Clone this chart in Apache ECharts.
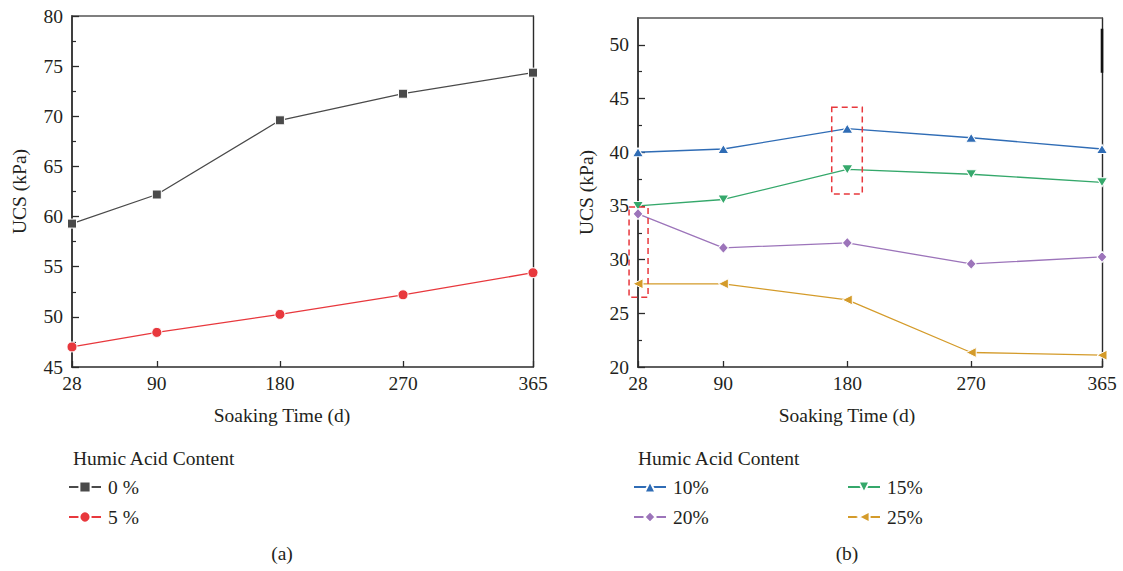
<!DOCTYPE html>
<html><head><meta charset="utf-8">
<script src="https://cdn.jsdelivr.net/npm/echarts@6/dist/echarts.min.js"></script>
<style>html,body{margin:0;padding:0;background:#fff}#c{width:1123px;height:571px}</style>
</head><body><div id="c"></div>
<script>
// ---- data ----
const days = [28, 90, 180, 270, 365];
const xTicks = [28, 90, 180, 270, 365];
const names = ['0 %', '5 %', '10%', '15%', '20%', '25%'];
const ucs0 = [59.3, 62.2, 69.6, 72.25, 74.35];
const ucs5 = [47.0, 48.45, 50.25, 52.2, 54.4];
const ucs10 = [40.0, 40.3, 42.2, 41.35, 40.3];
const ucs15 = [35.0, 35.6, 38.4, 37.95, 37.2];
const ucs20 = [34.25, 31.1, 31.55, 29.6, 30.25];
const ucs25 = [27.75, 27.75, 26.25, 21.35, 21.1];
const yTicksA = [45, 50, 55, 60, 65, 70, 75, 80];
const yMinorA = [47.5, 52.5, 57.5, 62.5, 67.5, 72.5, 77.5];
const yTicksB = [20, 25, 30, 35, 40, 45, 50];
const yMinorB = [22.5, 27.5, 32.5, 37.5, 42.5, 47.5];
const boxX1 = [21.5, 35.3], boxY1 = [26.5, 34.9];
const boxX2 = [168.7, 190.9], boxY2 = [36.1, 44.2];

const FONT = '"Liberation Serif", "DejaVu Serif", serif';
const FS = 19.5;
const TXT = '#231f20';
const AX = '#2b2b2b';

function pairs(v){ return days.map((d,i)=>[d, v[i]]); }

function bottomX(grid){
  return {type:'value', gridIndex:grid, min:28, max:365, position:'bottom',
    axisLine:{show:true, onZero:false, lineStyle:{color:AX, width:1.6}},
    axisTick:{show:true, inside:true, length:6, customValues:xTicks, lineStyle:{color:AX, width:1.3}},
    axisLabel:{show:true, customValues:xTicks, margin:6, fontFamily:FONT, fontSize:FS, color:TXT},
    splitLine:{show:false}};
}
function topX(grid){
  return {type:'value', gridIndex:grid, min:28, max:365, position:'top',
    axisLine:{show:true, onZero:false, lineStyle:{color:'#555', width:1.6}},
    axisTick:{show:false}, axisLabel:{show:false}, splitLine:{show:false}};
}
function leftY(grid, mn, mx, ticks, gap){
  return {type:'value', gridIndex:grid, min:mn, max:mx, position:'left',
    name:'UCS (kPa)', nameLocation:'middle', nameGap:gap,
    nameTextStyle:{fontFamily:FONT, fontSize:FS, color:TXT},
    axisLine:{show:true, onZero:false, lineStyle:{color:AX, width:1.8}},
    axisTick:{show:true, inside:true, length:7, customValues:ticks, lineStyle:{color:AX, width:1.3}},
    axisLabel:{show:true, customValues:ticks, margin:9, fontFamily:FONT, fontSize:FS, color:TXT},
    splitLine:{show:false}};
}
function minorY(grid, mn, mx, ticks){
  return {type:'value', gridIndex:grid, min:mn, max:mx, position:'left',
    axisLine:{show:false, onZero:false},
    axisTick:{show:true, inside:true, length:4, customValues:ticks, lineStyle:{color:AX, width:1.2}},
    axisLabel:{show:false}, splitLine:{show:false}};
}
function rightY(grid, mn, mx){
  return {type:'value', gridIndex:grid, min:mn, max:mx, position:'right',
    axisLine:{show:true, onZero:false, lineStyle:{color:AX, width:1.4}},
    axisTick:{show:false}, axisLabel:{show:false}, splitLine:{show:false}};
}
function line(name, data, xi, yi, color, symbol, size, rot){
  return {type:'line', name:name, data:pairs(data), xAxisIndex:xi, yAxisIndex:yi,
    symbol:symbol, symbolSize:size, symbolRotate:rot||0, showAllSymbol:true,
    lineStyle:{color:color, width:1.3},
    itemStyle:{color:color, borderColor:'#fff', borderWidth:1},
    emphasis:{disabled:true}, animation:false, clip:true, z:3};
}

// legend icon slots (one legend per entry, label drawn as text next to it)
const legendSlots = [[68, 487], [68, 517], [633, 487], [847, 487], [633, 517], [847, 517]];
function legendFor(i){
  return {orient:'vertical', left:legendSlots[i][0], top:legendSlots[i][1] - 7, padding:0,
    itemWidth:32, itemHeight:14, data:[names[i]], formatter:function(){ return ''; },
    selectedMode:false, textStyle:{fontSize:1}};
}

const chart = echarts.init(document.getElementById('c'), null, {renderer:'svg'});

chart.setOption({
  backgroundColor:'#fff',
  animation:false,
  textStyle:{fontFamily:FONT, fontSize:FS, color:TXT},
  grid:[
    {left:72, top:16, width:461, height:351, containLabel:false},
    {left:638, top:18, width:464, height:349, containLabel:false}
  ],
  xAxis:[bottomX(0), topX(0), bottomX(1), topX(1)],
  yAxis:[
    leftY(0, 45, 80, yTicksA, 43), minorY(0, 45, 80, yMinorA), rightY(0, 45, 80),
    leftY(1, 20, 52.5, yTicksB, 42), minorY(1, 20, 52.5, yMinorB), rightY(1, 20, 52.5)
  ],
  legend: names.map(function(n, i){ return legendFor(i); }),
  series:[
    line(names[0], ucs0, 0, 0, '#4a4a4a', 'rect', 9),
    line(names[1], ucs5, 0, 0, '#e8383d', 'circle', 10),
    line(names[2], ucs10, 2, 3, '#2f6cb5', 'triangle', [11, 9]),
    line(names[3], ucs15, 2, 3, '#35a86b', 'triangle', [11, 9], 180),
    line(names[4], ucs20, 2, 3, '#9c74ba', 'diamond', [10, 11]),
    line(names[5], ucs25, 2, 3, '#d49b2a', 'triangle', [10, 10], 90)
  ]
});

function px(v){ return chart.convertToPixel({xAxisIndex:2, yAxisIndex:3}, v); }
function boxRect(bx, by){
  const a = px([bx[0], by[1]]), b = px([bx[1], by[0]]);
  return {type:'rect', shape:{x:a[0], y:a[1], width:b[0]-a[0], height:b[1]-a[1]},
    style:{fill:'none', stroke:'#e8383d', lineWidth:1.5, lineDash:[6, 4]}, z:10, silent:true};
}
function txt(t, x, y, align){
  return {type:'text', x:x, y:y, silent:true,
    style:{text:t, fontFamily:FONT, fontSize:FS, fill:TXT, align:align||'center', verticalAlign:'middle'}};
}
const seg1 = px([365, 51.5]), seg2 = px([365, 47.4]);
const g = [
  boxRect(boxX1, boxY1), boxRect(boxX2, boxY2),
  {type:'line', shape:{x1:seg1[0], y1:seg1[1], x2:seg2[0], y2:seg2[1]}, style:{stroke:'#111', lineWidth:2.6}, silent:true, z:10},
  txt('Soaking Time (d)', 282, 415), txt('Soaking Time (d)', 847, 415),
  txt('Humic Acid Content', 73, 458, 'left'), txt('Humic Acid Content', 638, 458, 'left'),
  txt('(a)', 282, 553), txt('(b)', 847, 553)
];
names.forEach(function(n, i){ g.push(txt(n, legendSlots[i][0] + 40, legendSlots[i][1], 'left')); });
chart.setOption({graphic:g});
</script></body></html>
